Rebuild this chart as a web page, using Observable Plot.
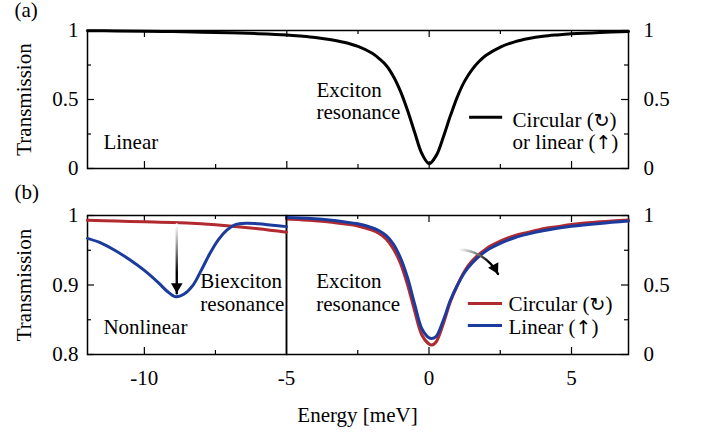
<!DOCTYPE html>
<html><head><meta charset="utf-8">
<script src="https://cdn.jsdelivr.net/npm/d3@7"></script>
<script src="https://cdn.jsdelivr.net/npm/@observablehq/plot@0.6"></script>
<style>
body{margin:0;background:#fff;}
#wrap{position:relative;width:701px;height:432px;font-family:"Liberation Serif","Times New Roman",serif;color:#000;}
#wrap svg{position:absolute;left:0;}
#wrap svg, #wrap svg text, #wrap svg tspan{font-family:"Liberation Serif","Times New Roman",serif !important;}
#xlabel{position:absolute;left:87px;width:541px;top:405px;text-align:center;font-size:21px;line-height:21px;}
</style></head><body><div id="wrap"><div id="xlabel">Energy [meV]</div></div>
<script>
// ---- data ----
const energyA = [-12,-11,-10,-9,-8,-7,-6,-5,-4.5,-4,-3.5,-3,-2.5,-2,-1.75,-1.5,-1.25,-1,-0.75,-0.5,-0.25,0,0.25,0.5,0.75,1,1.25,1.5,1.75,2,2.5,3,3.5,4,4.5,5,6,7];
const transA  = [0.998,0.997,0.995,0.992,0.988,0.983,0.977,0.968,0.96,0.95,0.935,0.915,0.885,0.835,0.795,0.745,0.665,0.555,0.415,0.255,0.105,0.035,0.095,0.23,0.385,0.525,0.635,0.715,0.775,0.82,0.88,0.918,0.942,0.958,0.968,0.976,0.986,0.993];

const energyB = [-5,-4.5,-4,-3.5,-3,-2.5,-2,-1.75,-1.5,-1.25,-1,-0.75,-0.5,-0.25,0,0.1,0.25,0.5,0.75,1,1.25,1.5,2,2.5,3,3.5,4,4.5,5,6,7];
const circularB = [0.975,0.97,0.962,0.953,0.94,0.925,0.895,0.87,0.83,0.76,0.655,0.5,0.31,0.14,0.075,0.068,0.09,0.22,0.38,0.5,0.6,0.67,0.76,0.815,0.855,0.88,0.905,0.92,0.935,0.955,0.968];
const linearB   = [0.985,0.982,0.976,0.967,0.955,0.94,0.912,0.89,0.855,0.795,0.695,0.55,0.36,0.185,0.12,0.115,0.13,0.245,0.39,0.5,0.59,0.655,0.745,0.8,0.84,0.868,0.89,0.908,0.922,0.943,0.96];

const energyBLc = [-12,-11,-10,-9,-8,-7,-6,-5];
const circularBL = [0.993,0.992,0.991,0.99,0.988,0.985,0.981,0.976];
const energyBLl = [-12,-11.5,-11,-10.5,-10,-9.5,-9.2,-8.9,-8.6,-8.3,-8,-7.7,-7.4,-7.1,-6.8,-6.4,-6,-5.5,-5];
const linearBL  = [0.967,0.96,0.949,0.936,0.921,0.903,0.891,0.883,0.887,0.899,0.921,0.945,0.965,0.979,0.987,0.989,0.988,0.986,0.984];

const xMajor = [-10,-5,0,5], xMinor = [-7.5,-2.5,2.5];
const yMajor01 = [0,0.5,1], yMinor01 = [0.25,0.75];
const yMajorBL = [0.8,0.9,1], yMinorBL = [0.85,0.95];

// annotation arrows (data coordinates)
const arrowNonlinear = {x1: -8.86, y1: 0.987, x2: -8.86, y2: 0.888};
const arrowExciton = {x1: 1.05, y1: 0.755, x2: 2.42, y2: 0.58, bend: 30};

const RED = "#b02a30", BLUE = "#1b3c9e";
const FONT = "Liberation Serif";
const fmt = d => String(+d.toFixed(2));

function ticks(xs, fw, fh, sides, len) {
  const m = [];
  if (sides.includes("b") && xs.x) m.push(Plot.tickX(xs.x, {x: d => d, insetTop: fh - len, strokeWidth: 1.2}));
  if (sides.includes("t") && xs.x) m.push(Plot.tickX(xs.x, {x: d => d, insetBottom: fh - len, strokeWidth: 1.2}));
  if (sides.includes("l") && xs.y) m.push(Plot.tickY(xs.y, {y: d => d, insetRight: fw - len, strokeWidth: 1.2}));
  if (sides.includes("r") && xs.y) m.push(Plot.tickY(xs.y, {y: d => d, insetLeft: fw - len, strokeWidth: 1.2}));
  return m;
}
function addGrad(svg, id, x1, y1, x2, y2) {
  const ns = "http://www.w3.org/2000/svg";
  const defs = document.createElementNS(ns, "defs");
  const g = document.createElementNS(ns, "linearGradient");
  g.setAttribute("id", id);
  g.setAttribute("gradientUnits", "userSpaceOnUse");
  g.setAttribute("x1", x1); g.setAttribute("y1", y1);
  g.setAttribute("x2", x2); g.setAttribute("y2", y2);
  [["0", "#ffffff"], ["0.35", "#888888"], ["0.7", "#000000"], ["1", "#000000"]].forEach(([o, c]) => {
    const s = document.createElementNS(ns, "stop");
    s.setAttribute("offset", o); s.setAttribute("stop-color", c);
    g.appendChild(s);
  });
  defs.appendChild(g);
  svg.insertBefore(defs, svg.firstChild);
}
// render polarization symbols with a plain text font (avoid emoji fallback)
function fixSymbols(svg) {
  const re = /([\u2191\u21bb])/;
  const walker = document.createTreeWalker(svg, NodeFilter.SHOW_TEXT);
  const nodes = [];
  while (walker.nextNode()) if (re.test(walker.currentNode.nodeValue)) nodes.push(walker.currentNode);
  for (const n of nodes) {
    const frag = document.createDocumentFragment();
    for (const part of n.nodeValue.split(re)) {
      if (!part) continue;
      if (re.test(part)) {
        const t = document.createElementNS("http://www.w3.org/2000/svg", "tspan");
        t.setAttribute("style", "font-family:'DejaVu Sans' !important;font-size:19px;fill:#000");
        t.textContent = part + "\uFE0E";
        frag.appendChild(t);
      } else frag.appendChild(document.createTextNode(part));
    }
    n.parentNode.replaceChild(frag, n);
  }
}
// filled arrow head as a rotated triangle dot whose tip sits on the arrow end
const HEAD_R = 4.3, HEAD_TIP = 2 * Math.sqrt(Math.PI * HEAD_R * HEAD_R / (Math.sqrt(3) * 3));
function headMark(a, angleDeg) {
  const t = angleDeg * Math.PI / 180;
  return Plot.dot([a], {x: "x2", y: "y2", symbol: "triangle", r: HEAD_R, fill: "#000", stroke: "none",
    rotate: angleDeg + 90, dx: -Math.cos(t) * HEAD_TIP, dy: -Math.sin(t) * HEAD_TIP});
}
const style = {fontFamily: FONT, fontSize: "21px", background: "transparent", color: "#000", overflow: "visible"};
const wrap = document.getElementById("wrap");

// ---------- panel (a) ----------
{
  const W = 701, H = 190, mL = 87, mR = 73, mT = 30, mB = 22;
  const fw = W - mL - mR, fh = H - mT - mB;
  const data = energyA.map((e, i) => ({E: e, T: transA[i]}));
  const p = Plot.plot({
    width: W, height: H, marginLeft: mL, marginRight: mR, marginTop: mT, marginBottom: mB,
    style,
    x: {domain: [-12, 7], axis: null},
    y: {domain: [0, 1]},
    marks: [
      ...ticks({x: xMajor, y: yMajor01}, fw, fh, "btlr", 7),
      ...ticks({x: xMinor, y: yMinor01}, fw, fh, "btlr", 4),
      Plot.axisY({ticks: yMajor01, anchor: "left", tickSize: 0, tickPadding: 9, tickFormat: fmt, label: null}),
      Plot.axisY({ticks: yMajor01, anchor: "right", tickSize: 0, tickPadding: 15, tickFormat: fmt, label: null}),
      Plot.frame({strokeWidth: 1.5}),
      Plot.line(data, {x: "E", y: "T", stroke: "#000", strokeWidth: 3, curve: "catmull-rom"}),
      Plot.text(["Transmission"], {frameAnchor: "left", rotate: -90, dx: -63, textAnchor: "middle", lineAnchor: "middle", text: d => d}),
      Plot.text(["(a)"], {frameAnchor: "top-left", dx: -73, dy: -28, textAnchor: "start", lineAnchor: "top", text: d => d}),
      Plot.text(["Linear"], {x: -11.44, y: 0.143, textAnchor: "start", lineAnchor: "bottom", text: d => d}),
      Plot.text(["Exciton\nresonance"], {x: -3.96, y: 0.36, textAnchor: "start", lineAnchor: "bottom", lineHeight: 1.04, text: d => d}),
      Plot.ruleY([0.372], {x1: 1.42, x2: 2.58, stroke: "#000", strokeWidth: 3}),
      Plot.text(["Circular (\u21bb)\nor linear (\u2191)"], {x: 2.93, y: 0.143, textAnchor: "start", lineAnchor: "bottom", lineHeight: 1.06, text: d => d})
    ]
  });
  fixSymbols(p);
  p.style.top = "0px";
  wrap.appendChild(p);
}

// ---------- panel (b), right part ----------
const TOPB = 180;
{
  const W = 701, H = 252, mL = 286, mR = 73, mT = 35, mB = 78;
  const fw = W - mL - mR, fh = H - mT - mB;
  const circ = energyB.map((e, i) => ({E: e, T: circularB[i]}));
  const lin = energyB.map((e, i) => ({E: e, T: linearB[i]}));
  const a = arrowExciton;
  const xs = d3.scaleLinear([-5, 7], [mL, W - mR]), ys = d3.scaleLinear([0, 1], [H - mB, mT]);
  const chord = Math.atan2(ys(a.y2) - ys(a.y1), xs(a.x2) - xs(a.x1)) * 180 / Math.PI;
  const p = Plot.plot({
    width: W, height: H, marginLeft: mL, marginRight: mR, marginTop: mT, marginBottom: mB,
    style,
    x: {domain: [-5, 7]},
    y: {domain: [0, 1]},
    marks: [
      ...ticks({x: [0, 5], y: yMajor01}, fw, fh, "btr", 7),
      ...ticks({x: [-2.5, 2.5], y: yMinor01}, fw, fh, "btr", 4),
      Plot.axisY({ticks: yMajor01, anchor: "right", tickSize: 0, tickPadding: 15, tickFormat: fmt, label: null}),
      Plot.axisX({ticks: [-5, 0, 5], anchor: "bottom", tickSize: 0, tickPadding: 16, tickFormat: fmt, label: null}),
      Plot.frame({strokeWidth: 1.5}),
      Plot.line(circ, {x: "E", y: "T", stroke: RED, strokeWidth: 3, curve: "catmull-rom"}),
      Plot.line(lin, {x: "E", y: "T", stroke: BLUE, strokeWidth: 3, curve: "catmull-rom"}),
      Plot.arrow([a], {x1: "x1", y1: "y1", x2: "x2", y2: "y2", bend: a.bend, stroke: "url(#gB2)", strokeWidth: 2.4, headLength: 0}),
      headMark(a, chord + a.bend),
      Plot.text(["Exciton\nresonance"], {x: -3.96, y: 0.312, textAnchor: "start", lineAnchor: "bottom", lineHeight: 1.1, text: d => d}),
      Plot.ruleY([0.367], {x1: 1.38, x2: 2.58, stroke: RED, strokeWidth: 3}),
      Plot.ruleY([0.209], {x1: 1.38, x2: 2.58, stroke: BLUE, strokeWidth: 3}),
      Plot.text(["Circular (\u21bb)\nLinear (\u2191)"], {x: 2.79, y: 0.144, textAnchor: "start", lineAnchor: "bottom", lineHeight: 1.1, text: d => d})
    ]
  });
  const sx = p.scale("x"), sy = p.scale("y");
  addGrad(p, "gB2", sx.apply(a.x1), sy.apply(a.y1), sx.apply(a.x2), sy.apply(a.y2));
  fixSymbols(p);
  p.style.top = TOPB + "px";
  wrap.appendChild(p);
}

// ---------- panel (b), left part ----------
{
  const W = 701, H = 252, mL = 87, mR = 415, mT = 35, mB = 78;
  const fw = W - mL - mR, fh = H - mT - mB;
  const circ = energyBLc.map((e, i) => ({E: e, T: circularBL[i]}));
  const lin = energyBLl.map((e, i) => ({E: e, T: linearBL[i]}));
  const a = arrowNonlinear;
  const p = Plot.plot({
    width: W, height: H, marginLeft: mL, marginRight: mR, marginTop: mT, marginBottom: mB,
    style,
    x: {domain: [-12, -5]},
    y: {domain: [0.8, 1]},
    marks: [
      ...ticks({x: [-10], y: yMajorBL}, fw, fh, "btl", 7),
      ...ticks({x: [-7.5], y: yMinorBL}, fw, fh, "btl", 4),
      Plot.axisY({ticks: yMajorBL, anchor: "left", tickSize: 0, tickPadding: 9, tickFormat: fmt, label: null}),
      Plot.axisX({ticks: [-10], anchor: "bottom", tickSize: 0, tickPadding: 16, tickFormat: fmt, label: null}),
      Plot.frame({strokeWidth: 1.5}),
      Plot.line(circ, {x: "E", y: "T", stroke: RED, strokeWidth: 3, curve: "catmull-rom"}),
      Plot.line(lin, {x: "E", y: "T", stroke: BLUE, strokeWidth: 3, curve: "catmull-rom"}),
      Plot.arrow([a], {x1: "x1", y1: "y1", x2: "x2", y2: "y2", stroke: "url(#gB1)", strokeWidth: 2.4, headLength: 0}),
      headMark(a, 90),
      Plot.text(["Transmission"], {frameAnchor: "left", rotate: -90, dx: -63, textAnchor: "middle", lineAnchor: "middle", text: d => d}),
      Plot.text(["(b)"], {frameAnchor: "top-left", dx: -73, dy: -31, textAnchor: "start", lineAnchor: "top", text: d => d}),
      Plot.text(["Biexciton\nresonance"], {x: -8.03, y: 0.862, textAnchor: "start", lineAnchor: "bottom", lineHeight: 1.1, text: d => d}),
      Plot.text(["Nonlinear"], {x: -11.44, y: 0.829, textAnchor: "start", lineAnchor: "bottom", text: d => d})
    ]
  });
  const sx = p.scale("x"), sy = p.scale("y");
  addGrad(p, "gB1", sx.apply(a.x1), sy.apply(a.y1), sx.apply(a.x2), sy.apply(a.y2));
  p.style.top = TOPB + "px";
  wrap.appendChild(p);
}
</script>
</body></html>
